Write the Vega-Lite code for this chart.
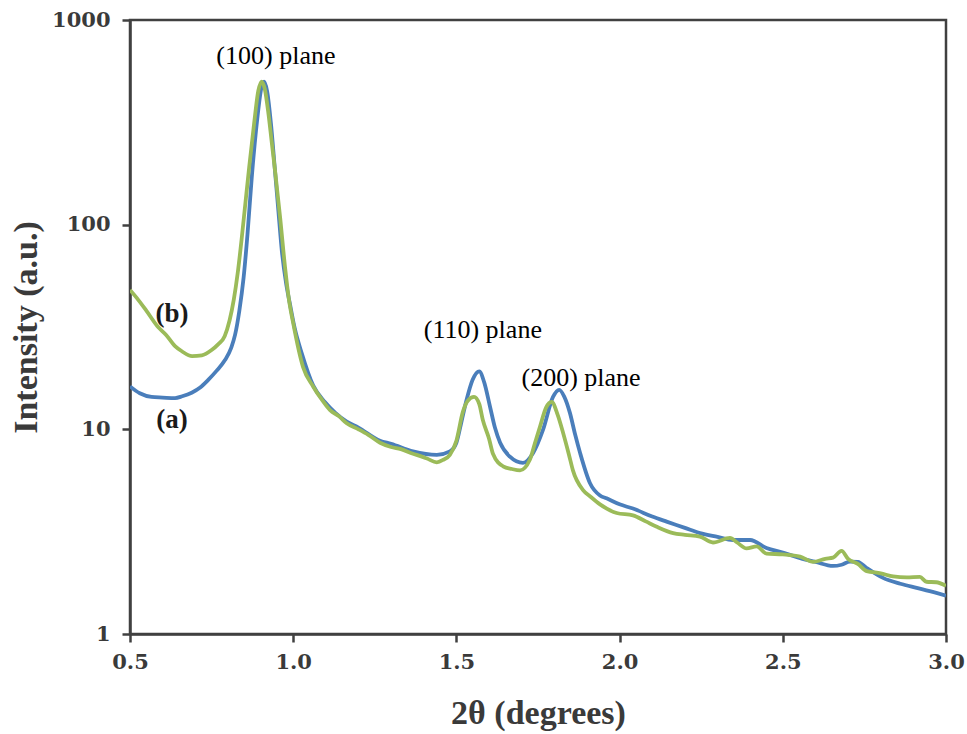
{
  "$schema": "https://vega.github.io/schema/vega-lite/v6.json",
  "autosize": "none",
  "width": 816,
  "height": 614,
  "padding": {"left": 130, "top": 20, "right": 21, "bottom": 100},
  "background": "white",
  "config": {
    "view": {"stroke": "#404040", "strokeWidth": 2.5},
    "font": "Liberation Serif"
  },
  "datasets": {
    "curves": [
      {"x": 0.50, "y": 16.2, "s": "a"}, {"x": 0.53, "y": 15.0, "s": "a"}, {"x": 0.566, "y": 14.4, "s": "a"},
      {"x": 0.60, "y": 14.3, "s": "a"}, {"x": 0.638, "y": 14.2, "s": "a"}, {"x": 0.66, "y": 14.5, "s": "a"},
      {"x": 0.689, "y": 15.1, "s": "a"}, {"x": 0.715, "y": 16.0, "s": "a"}, {"x": 0.739, "y": 17.4, "s": "a"},
      {"x": 0.765, "y": 19.3, "s": "a"}, {"x": 0.791, "y": 21.8, "s": "a"}, {"x": 0.81, "y": 25, "s": "a"},
      {"x": 0.822, "y": 29, "s": "a"}, {"x": 0.835, "y": 38, "s": "a"}, {"x": 0.848, "y": 55, "s": "a"},
      {"x": 0.860, "y": 90, "s": "a"}, {"x": 0.873, "y": 170, "s": "a"}, {"x": 0.89, "y": 330, "s": "a"},
      {"x": 0.903, "y": 470, "s": "a"}, {"x": 0.911, "y": 500, "s": "a"}, {"x": 0.92, "y": 450, "s": "a"},
      {"x": 0.932, "y": 310, "s": "a"}, {"x": 0.944, "y": 185, "s": "a"}, {"x": 0.955, "y": 115, "s": "a"},
      {"x": 0.965, "y": 75, "s": "a"}, {"x": 0.978, "y": 52, "s": "a"}, {"x": 0.99, "y": 41, "s": "a"},
      {"x": 1.005, "y": 31, "s": "a"}, {"x": 1.026, "y": 23.6, "s": "a"}, {"x": 1.061, "y": 16.4, "s": "a"},
      {"x": 1.097, "y": 13.6, "s": "a"}, {"x": 1.13, "y": 12.0, "s": "a"}, {"x": 1.164, "y": 10.9, "s": "a"},
      {"x": 1.2, "y": 10.2, "s": "a"}, {"x": 1.266, "y": 8.8, "s": "a"}, {"x": 1.3, "y": 8.5, "s": "a"},
      {"x": 1.367, "y": 7.8, "s": "a"}, {"x": 1.44, "y": 7.5, "s": "a"}, {"x": 1.48, "y": 7.8, "s": "a"},
      {"x": 1.50, "y": 8.6, "s": "a"}, {"x": 1.515, "y": 10.8, "s": "a"}, {"x": 1.531, "y": 13.9, "s": "a"},
      {"x": 1.55, "y": 17.5, "s": "a"}, {"x": 1.57, "y": 19.2, "s": "a"}, {"x": 1.585, "y": 17.0, "s": "a"},
      {"x": 1.603, "y": 12.9, "s": "a"}, {"x": 1.618, "y": 10.2, "s": "a"}, {"x": 1.634, "y": 8.6, "s": "a"},
      {"x": 1.664, "y": 7.35, "s": "a"}, {"x": 1.704, "y": 6.85, "s": "a"}, {"x": 1.735, "y": 7.66, "s": "a"},
      {"x": 1.765, "y": 9.9, "s": "a"}, {"x": 1.796, "y": 14.4, "s": "a"}, {"x": 1.815, "y": 15.6, "s": "a"},
      {"x": 1.83, "y": 14.5, "s": "a"}, {"x": 1.848, "y": 12.0, "s": "a"}, {"x": 1.864, "y": 9.4, "s": "a"},
      {"x": 1.879, "y": 7.66, "s": "a"}, {"x": 1.909, "y": 5.47, "s": "a"}, {"x": 1.94, "y": 4.75, "s": "a"},
      {"x": 1.96, "y": 4.6, "s": "a"}, {"x": 2.0, "y": 4.3, "s": "a"}, {"x": 2.041, "y": 4.1, "s": "a"},
      {"x": 2.1, "y": 3.75, "s": "a"}, {"x": 2.144, "y": 3.54, "s": "a"}, {"x": 2.2, "y": 3.3, "s": "a"},
      {"x": 2.246, "y": 3.11, "s": "a"}, {"x": 2.3, "y": 2.98, "s": "a"}, {"x": 2.347, "y": 2.88, "s": "a"},
      {"x": 2.4, "y": 2.88, "s": "a"}, {"x": 2.45, "y": 2.63, "s": "a"}, {"x": 2.5, "y": 2.5, "s": "a"},
      {"x": 2.553, "y": 2.35, "s": "a"}, {"x": 2.6, "y": 2.25, "s": "a"}, {"x": 2.654, "y": 2.15, "s": "a"},
      {"x": 2.68, "y": 2.18, "s": "a"}, {"x": 2.706, "y": 2.26, "s": "a"}, {"x": 2.73, "y": 2.25, "s": "a"},
      {"x": 2.757, "y": 2.1, "s": "a"}, {"x": 2.807, "y": 1.88, "s": "a"}, {"x": 2.86, "y": 1.76, "s": "a"},
      {"x": 2.91, "y": 1.68, "s": "a"}, {"x": 2.95, "y": 1.62, "s": "a"}, {"x": 3.0, "y": 1.54, "s": "a"},

      {"x": 0.50, "y": 48, "s": "b"}, {"x": 0.52, "y": 44, "s": "b"}, {"x": 0.55, "y": 38, "s": "b"},
      {"x": 0.586, "y": 31.6, "s": "b"}, {"x": 0.61, "y": 29, "s": "b"}, {"x": 0.638, "y": 25.5, "s": "b"},
      {"x": 0.66, "y": 24, "s": "b"}, {"x": 0.69, "y": 22.8, "s": "b"}, {"x": 0.72, "y": 23, "s": "b"},
      {"x": 0.75, "y": 24.4, "s": "b"}, {"x": 0.77, "y": 26, "s": "b"}, {"x": 0.79, "y": 28.5, "s": "b"},
      {"x": 0.805, "y": 34, "s": "b"}, {"x": 0.818, "y": 43, "s": "b"}, {"x": 0.83, "y": 58, "s": "b"},
      {"x": 0.842, "y": 85, "s": "b"}, {"x": 0.853, "y": 125, "s": "b"}, {"x": 0.865, "y": 190, "s": "b"},
      {"x": 0.88, "y": 310, "s": "b"}, {"x": 0.893, "y": 450, "s": "b"}, {"x": 0.903, "y": 500, "s": "b"},
      {"x": 0.913, "y": 460, "s": "b"}, {"x": 0.924, "y": 350, "s": "b"}, {"x": 0.934, "y": 255, "s": "b"},
      {"x": 0.945, "y": 180, "s": "b"}, {"x": 0.96, "y": 108, "s": "b"}, {"x": 0.975, "y": 62, "s": "b"},
      {"x": 0.987, "y": 43, "s": "b"}, {"x": 1.0, "y": 33, "s": "b"}, {"x": 1.03, "y": 20.2, "s": "b"},
      {"x": 1.061, "y": 16.2, "s": "b"}, {"x": 1.09, "y": 13.8, "s": "b"}, {"x": 1.113, "y": 12.4, "s": "b"},
      {"x": 1.14, "y": 11.6, "s": "b"}, {"x": 1.164, "y": 10.7, "s": "b"}, {"x": 1.2, "y": 10.0, "s": "b"},
      {"x": 1.23, "y": 9.4, "s": "b"}, {"x": 1.266, "y": 8.6, "s": "b"}, {"x": 1.3, "y": 8.2, "s": "b"},
      {"x": 1.33, "y": 8.0, "s": "b"}, {"x": 1.367, "y": 7.6, "s": "b"}, {"x": 1.39, "y": 7.4, "s": "b"},
      {"x": 1.41, "y": 7.2, "s": "b"}, {"x": 1.44, "y": 6.9, "s": "b"}, {"x": 1.46, "y": 7.1, "s": "b"},
      {"x": 1.48, "y": 7.5, "s": "b"}, {"x": 1.50, "y": 8.8, "s": "b"}, {"x": 1.52, "y": 12.2, "s": "b"},
      {"x": 1.535, "y": 13.8, "s": "b"}, {"x": 1.554, "y": 14.4, "s": "b"}, {"x": 1.57, "y": 13.3, "s": "b"},
      {"x": 1.581, "y": 11.1, "s": "b"}, {"x": 1.6, "y": 9.0, "s": "b"}, {"x": 1.612, "y": 7.6, "s": "b"},
      {"x": 1.643, "y": 6.6, "s": "b"}, {"x": 1.67, "y": 6.4, "s": "b"}, {"x": 1.695, "y": 6.3, "s": "b"},
      {"x": 1.725, "y": 7.1, "s": "b"}, {"x": 1.74, "y": 8.5, "s": "b"}, {"x": 1.756, "y": 10.3, "s": "b"},
      {"x": 1.775, "y": 12.8, "s": "b"}, {"x": 1.792, "y": 13.6, "s": "b"}, {"x": 1.81, "y": 11.8, "s": "b"},
      {"x": 1.827, "y": 9.6, "s": "b"}, {"x": 1.845, "y": 7.5, "s": "b"}, {"x": 1.857, "y": 6.3, "s": "b"},
      {"x": 1.888, "y": 5.05, "s": "b"}, {"x": 1.91, "y": 4.7, "s": "b"}, {"x": 1.94, "y": 4.3, "s": "b"},
      {"x": 1.991, "y": 3.9, "s": "b"}, {"x": 2.041, "y": 3.8, "s": "b"}, {"x": 2.08, "y": 3.55, "s": "b"},
      {"x": 2.114, "y": 3.34, "s": "b"}, {"x": 2.164, "y": 3.11, "s": "b"}, {"x": 2.2, "y": 3.05, "s": "b"},
      {"x": 2.246, "y": 2.99, "s": "b"}, {"x": 2.286, "y": 2.8, "s": "b"}, {"x": 2.338, "y": 2.95, "s": "b"},
      {"x": 2.36, "y": 2.8, "s": "b"}, {"x": 2.389, "y": 2.62, "s": "b"}, {"x": 2.42, "y": 2.68, "s": "b"},
      {"x": 2.45, "y": 2.47, "s": "b"}, {"x": 2.5, "y": 2.45, "s": "b"}, {"x": 2.553, "y": 2.39, "s": "b"},
      {"x": 2.593, "y": 2.25, "s": "b"}, {"x": 2.63, "y": 2.33, "s": "b"}, {"x": 2.654, "y": 2.36, "s": "b"},
      {"x": 2.68, "y": 2.55, "s": "b"}, {"x": 2.7, "y": 2.33, "s": "b"}, {"x": 2.73, "y": 2.2, "s": "b"},
      {"x": 2.757, "y": 2.03, "s": "b"}, {"x": 2.8, "y": 1.98, "s": "b"}, {"x": 2.838, "y": 1.91, "s": "b"},
      {"x": 2.88, "y": 1.89, "s": "b"}, {"x": 2.92, "y": 1.9, "s": "b"}, {"x": 2.94, "y": 1.8, "s": "b"},
      {"x": 2.97, "y": 1.79, "s": "b"}, {"x": 3.0, "y": 1.72, "s": "b"}
    ],
    "notes": [
      {"x": 0.947, "y": 667, "label": "(100) plane", "kind": "plane"},
      {"x": 1.581, "y": 30.6, "label": "(110) plane", "kind": "plane"},
      {"x": 1.882, "y": 17.8, "label": "(200) plane", "kind": "plane"},
      {"x": 0.629, "y": 36.6, "label": "(b)", "kind": "series"},
      {"x": 0.629, "y": 11.1, "label": "(a)", "kind": "series"}
    ]
  },
  "layer": [
    {
      "data": {"name": "curves"},
      "transform": [{"filter": "datum.s === 'a'"}],
      "mark": {"type": "line", "color": "#4a7ebb", "strokeWidth": 3.8, "interpolate": "monotone", "clip": true},
      "encoding": {
        "x": {
          "field": "x", "type": "quantitative",
          "scale": {"domain": [0.5, 3.0], "nice": false, "zero": false},
          "axis": {
            "title": "2θ (degrees)",
            "values": [0.5, 1.0, 1.5, 2.0, 2.5, 3.0],
            "format": ".1f",
            "grid": false,
            "domainColor": "#404040", "domainWidth": 2.5,
            "tickColor": "#404040", "tickWidth": 2.5, "tickSize": 8,
            "labelFont": "DejaVu Serif", "labelFontWeight": "bold", "labelFontSize": 21,
            "labelColor": "#3a3a3a", "labelPadding": 9, "labelFlush": false,
            "titleFont": "Liberation Serif", "titleFontWeight": "bold", "titleFontSize": 34,
            "titleColor": "#3a3a3a", "titlePadding": 24
          }
        },
        "y": {
          "field": "y", "type": "quantitative",
          "scale": {"type": "log", "domain": [1, 1000], "nice": false},
          "axis": {
            "title": "Intensity (a.u.)",
            "values": [1, 10, 100, 1000],
            "format": "d",
            "grid": false,
            "domainColor": "#404040", "domainWidth": 2.5,
            "tickColor": "#404040", "tickWidth": 2.5, "tickSize": 8,
            "labelFont": "DejaVu Serif", "labelFontWeight": "bold", "labelFontSize": 21,
            "labelColor": "#3a3a3a", "labelPadding": 12, "labelFlush": false,
            "titleFont": "Liberation Serif", "titleFontWeight": "bold", "titleFontSize": 34,
            "titleColor": "#3a3a3a", "titlePadding": 8
          }
        }
      }
    },
    {
      "data": {"name": "curves"},
      "transform": [{"filter": "datum.s === 'b'"}],
      "mark": {"type": "line", "color": "#9bbb59", "strokeWidth": 3.8, "interpolate": "monotone", "clip": true},
      "encoding": {
        "x": {"field": "x", "type": "quantitative"},
        "y": {"field": "y", "type": "quantitative"}
      }
    },
    {
      "data": {"name": "notes"},
      "transform": [{"filter": "datum.kind === 'plane'"}],
      "mark": {"type": "text", "font": "Liberation Serif", "fontSize": 26, "color": "#000000", "align": "center", "baseline": "middle"},
      "encoding": {
        "x": {"field": "x", "type": "quantitative"},
        "y": {"field": "y", "type": "quantitative"},
        "text": {"field": "label"}
      }
    },
    {
      "data": {"name": "notes"},
      "transform": [{"filter": "datum.kind === 'series'"}],
      "mark": {"type": "text", "font": "Liberation Serif", "fontSize": 27, "fontWeight": "bold", "color": "#1a1a1a", "align": "center", "baseline": "middle"},
      "encoding": {
        "x": {"field": "x", "type": "quantitative"},
        "y": {"field": "y", "type": "quantitative"},
        "text": {"field": "label"}
      }
    }
  ]
}
